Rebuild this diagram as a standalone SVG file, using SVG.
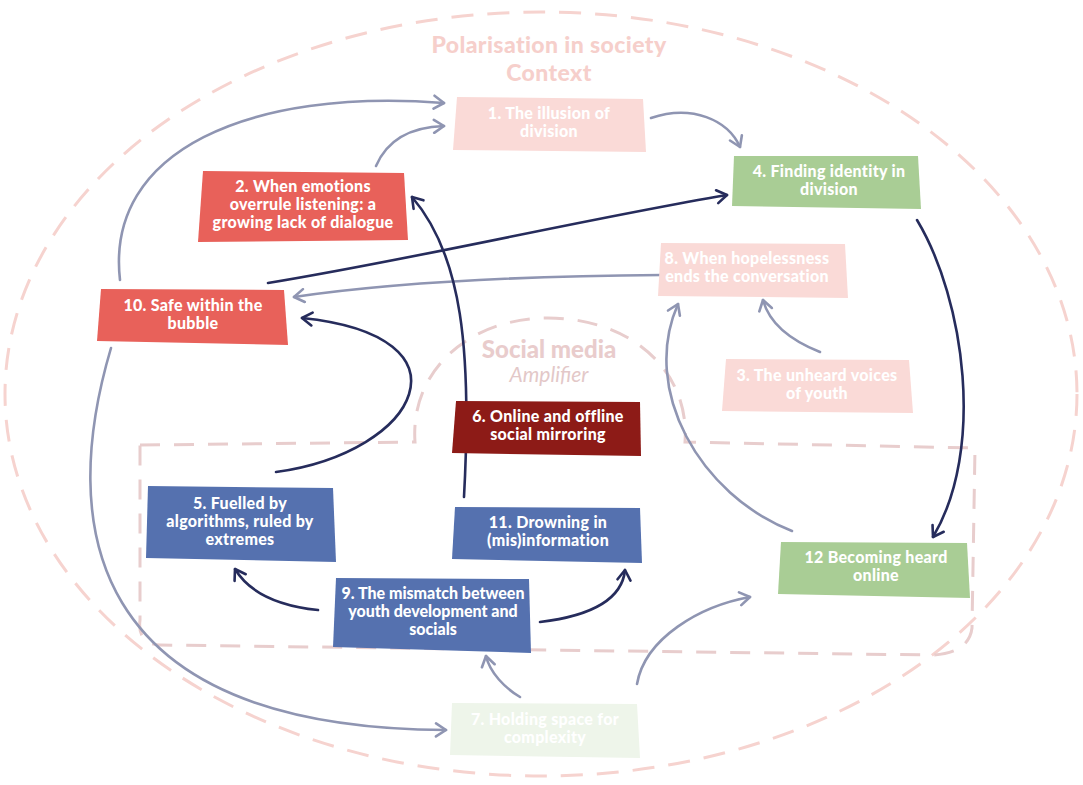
<svg xmlns="http://www.w3.org/2000/svg" width="1083" height="785" viewBox="0 0 1083 785">
<defs>
<style>
.t{font-family:Lato,"Noto Sans",sans-serif;font-weight:900;font-size:16px;letter-spacing:0.3px;fill:#fff;text-anchor:middle}
.lt{stroke:#8f95b2;stroke-width:2.6;fill:none;stroke-linecap:round}
.dk{stroke:#262c5c;stroke-width:2.6;fill:none;stroke-linecap:round}
.coral{fill:#e8615a}
.dred{fill:#8d1b17}
.blue{fill:#5571af}
.green{fill:#a9cd95}
.ppink{fill:#fadad7}
.pgreen{fill:#eef5ea}
.title{font-family:Lato,"Noto Sans",sans-serif;font-weight:900;font-size:23px;letter-spacing:0.4px;fill:#f6cfcb;text-anchor:middle}
</style>
<marker id="al" markerWidth="16" markerHeight="16" refX="12" refY="8" orient="auto" markerUnits="userSpaceOnUse"><path d="M2,1.5 L12,8 L2,14.5" fill="none" stroke="#8f95b2" stroke-width="2.6" stroke-linecap="round" stroke-linejoin="round"/></marker>
<marker id="ad" markerWidth="16" markerHeight="16" refX="12" refY="8" orient="auto" markerUnits="userSpaceOnUse"><path d="M2,1.5 L12,8 L2,14.5" fill="none" stroke="#262c5c" stroke-width="2.6" stroke-linecap="round" stroke-linejoin="round"/></marker>
</defs>
<rect width="1083" height="785" fill="#fff"/>
<g id="context">
<ellipse cx="541" cy="394" rx="536" ry="382" fill="none" stroke="#f6d3cf" stroke-width="3" stroke-dasharray="22 14"/>
<text class="title" x="549" y="53">Polarisation in society</text>
<text class="title" x="549" y="81">Context</text>
</g>
<g id="social-media">
<path d="M140,445 L415,442 C410,370 470,318 548,318 C630,318 690,370 685,442 L975,448 L972,628 C970,645 955,655 930,655 L160,645 C145,645 138,635 140,620 Z" fill="none" stroke="#e8cdcd" stroke-width="3" stroke-dasharray="20 14"/>
<text x="549" y="358" font-family="Lato,'Noto Sans',sans-serif" font-weight="900" font-size="24" fill="#e9cccc" text-anchor="middle">Social media</text>
<text x="549" y="382" font-family="Lato,'Noto Sans',sans-serif" font-style="italic" font-size="21" fill="#e3c8c8" text-anchor="middle">Amplifier</text>
</g>
<g id="connectors">
<path class="lt" d="M120,280 C105,150 250,88 444,103" marker-end="url(#al)"/>
<path class="lt" d="M376,166 C388,138 412,127 444,126" marker-end="url(#al)"/>
<path class="lt" d="M651,118 C692,104 728,120 740,147" marker-end="url(#al)"/>
<path class="lt" d="M662,275 C520,276 390,283 294,297" marker-end="url(#al)"/>
<path class="lt" d="M820,352 C795,342 770,326 763,300" marker-end="url(#al)"/>
<path class="lt" d="M792,531 C700,495 640,390 678,304" marker-end="url(#al)"/>
<path class="lt" d="M111,348 C60,520 80,728 446,730" marker-end="url(#al)"/>
<path class="lt" d="M520,697 C505,688 490,673 486,656" marker-end="url(#al)"/>
<path class="lt" d="M637,684 C645,638 700,606 750,597" marker-end="url(#al)"/>
<path class="dk" d="M268,283 C420,258 580,220 727,195" marker-end="url(#ad)"/>
<path class="dk" d="M917,220 C965,300 985,450 933,537" marker-end="url(#ad)"/>
<path class="dk" d="M464,497 C472,350 462,255 412,197" marker-end="url(#ad)"/>
<path class="dk" d="M276,472 C420,452 478,336 302,318" marker-end="url(#ad)"/>
<path class="dk" d="M318,610 C280,606 250,594 235,569" marker-end="url(#ad)"/>
<path class="dk" d="M540,622 C590,616 622,600 625,570" marker-end="url(#ad)"/>
</g>
<g id="n1"><path class="ppink" d="M457,97 L643,99 L646,152 L453,150 Z"/><text class="t"><tspan x="549" y="119">1. The illusion of</tspan><tspan x="549" y="137">division</tspan></text></g>
<g id="n2"><path class="coral" d="M203,171 L404,173 L408,240 L198,242 Z"/><text class="t"><tspan x="303" y="192">2. When emotions</tspan><tspan x="303" y="210">overrule listening: a</tspan><tspan x="303" y="228">growing lack of dialogue</tspan></text></g>
<g id="n3"><path class="ppink" d="M726,359 L909,360 L913,413 L722,411 Z"/><text class="t"><tspan x="817" y="381">3. The unheard voices</tspan><tspan x="817" y="399">of youth</tspan></text></g>
<g id="n4"><path class="green" d="M734,156 L918,156 L921,209 L732,206 Z"/><text class="t"><tspan x="829" y="177">4. Finding identity in</tspan><tspan x="829" y="195">division</tspan></text></g>
<g id="n5"><path class="blue" d="M148,486 L333,488 L336,562 L146,558 Z"/><text class="t"><tspan x="240" y="509">5. Fuelled by</tspan><tspan x="240" y="527">algorithms, ruled by</tspan><tspan x="240" y="545">extremes</tspan></text></g>
<g id="n6"><path class="dred" d="M456,401 L640,402 L641,456 L452,453 Z"/><text class="t"><tspan x="548" y="422">6. Online and offline</tspan><tspan x="548" y="440">social mirroring</tspan></text></g>
<g id="n7"><path class="pgreen" d="M452,703 L637,704 L640,758 L450,755 Z"/><text class="t"><tspan x="545" y="725">7. Holding space for</tspan><tspan x="545" y="743">complexity</tspan></text></g>
<g id="n8"><path class="ppink" d="M661,243 L845,244 L848,298 L658,296 Z"/><text class="t"><tspan x="747" y="264">8. When hopelessness</tspan><tspan x="747" y="282">ends the conversation</tspan></text></g>
<g id="n9"><path class="blue" d="M336,578 L529,579 L531,653 L333,647 Z"/><text class="t" style="letter-spacing:0"><tspan x="433" y="599">9. The mismatch between</tspan><tspan x="433" y="617">youth development and</tspan><tspan x="433" y="635">socials</tspan></text></g>
<g id="n10"><path class="coral" d="M101,289 L284,290 L288,345 L97,341 Z"/><text class="t"><tspan x="193" y="311">10. Safe within the</tspan><tspan x="193" y="329">bubble</tspan></text></g>
<g id="n11"><path class="blue" d="M455,507 L640,508 L642,563 L452,559 Z"/><text class="t"><tspan x="548" y="528">11. Drowning in</tspan><tspan x="548" y="546">(mis)information</tspan></text></g>
<g id="n12"><path class="green" d="M781,542 L967,543 L970,598 L778,594 Z"/><text class="t"><tspan x="876" y="563">12 Becoming heard</tspan><tspan x="876" y="581">online</tspan></text></g>
</svg>
